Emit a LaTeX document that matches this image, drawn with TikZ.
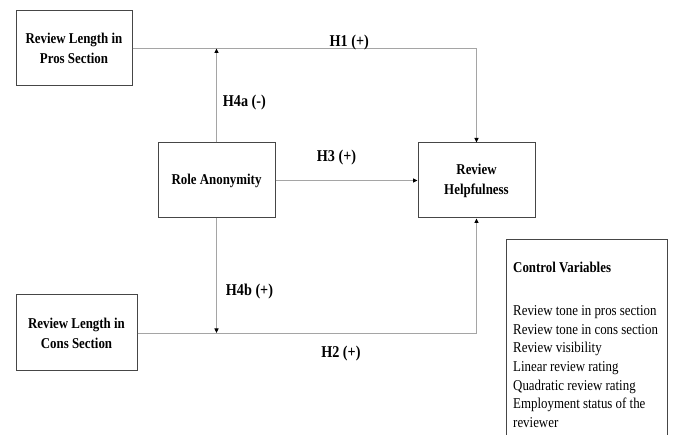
\documentclass[tikz,border=0pt]{standalone}
\usepackage{fontspec}
\setmainfont[FakeStretch=0.86]{Liberation Serif}
\usetikzlibrary{arrows.meta}
\definecolor{linegray}{RGB}{165,165,165}
\definecolor{boxgray}{RGB}{70,70,70}

\begin{document}
\begin{tikzpicture}[x=1pt, y=-1pt,
						construct/.style={rectangle, draw=boxgray, line width=1pt, align=center, inner sep=0pt, font=\bfseries\fontsize{15}{20}\selectfont},
						hyp_path/.style={draw=linegray, line width=0.9pt, -{Triangle[length=4.5pt, width=4pt, color=black]}},
						hyp/.style={inner sep=0pt, text=black, font=\bfseries\fontsize{16.5}{19}\selectfont},
						ctrl_text/.style={align=left, inner sep=0pt, font=\fontsize{15}{18.7}\selectfont}
						]
						\useasboundingbox (0,0) rectangle (675,435);
						\clip (0,0) rectangle (675,435);
						
						% Constructos del modelo
						\node[construct, minimum width=116pt, minimum height=75pt] (pros) at (74,48.5) {Review Length in\\Pros Section};
						\node[construct, minimum width=121pt, minimum height=76pt] (cons) at (76.5,333) {Review Length in\\Cons Section};
						\node[construct, minimum width=117pt, minimum height=75pt] (role) at (216.5,180.5) {Role Anonymity};
						\node[construct, minimum width=117pt, minimum height=75pt] (help) at (476.5,180.5) {Review\\Helpfulness};
						
						% Efectos directos
						\draw[hyp_path] (pros.east) -- node[hyp, anchor=base, pos=0.63, yshift=1.8pt] (h1) {H1 (+)} (help.north |- pros.east) -- (help.north);
						\draw[hyp_path] (cons.east) -- node[hyp, anchor=base, pos=0.6, yshift=-25pt] (h2) {H2 (+)} (help.south |- cons.east) -- (help.south);
						\draw[hyp_path] (role.east) -- node[hyp, anchor=base, pos=0.43, yshift=18.5pt] (h3) {H3 (+)} (help.west);
						
						% Efectos moderadores
						\draw[hyp_path] (role.north) -- node[hyp, anchor=west, pos=0.43, xshift=6pt] (h4a) {H4a (-)} (role.north |- pros.east);
						\draw[hyp_path] (role.south) -- node[hyp, anchor=west, pos=0.64, xshift=9pt] (h4b) {H4b (+)} (role.south |- cons.east);
						
						% Variables de control
						\node[ctrl_text, anchor=north west] (ctrl) at (513,262) {\textbf{Control Variables}\\[24pt]
							Review tone in pros section\\
							Review tone in cons section\\
							Review visibility\\
							Linear review rating\\
							Quadratic review rating\\
							Employment status of the\\
							reviewer};
						\draw[boxgray, line width=1pt] (506,450) |- (667,240) -- (667,450);
						
					\end{tikzpicture}
\end{document}
